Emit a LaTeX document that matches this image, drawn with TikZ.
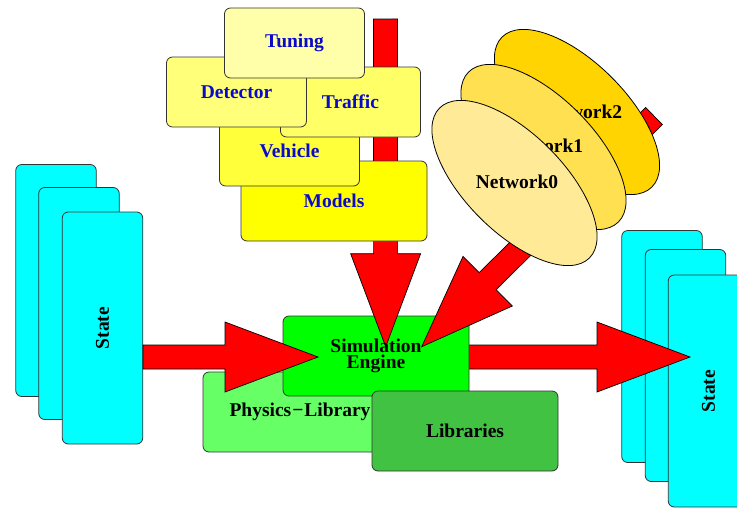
\documentclass[tikz,border=0pt]{standalone}
\usepackage{fontspec}
\setmainfont{Liberation Serif}
\usetikzlibrary{calc,shapes.geometric}
\definecolor{cmodels}{RGB}{255,255,0}
\definecolor{cvehicle}{RGB}{255,255,58}
\definecolor{ctraffic}{RGB}{255,255,102}
\definecolor{cdetector}{RGB}{255,255,122}
\definecolor{ctuning}{RGB}{255,255,170}
\definecolor{mblue}{RGB}{10,10,205}
\definecolor{cnet0}{RGB}{255,234,152}
\definecolor{cnet1}{RGB}{255,224,80}
\definecolor{cnet2}{RGB}{255,212,0}
\definecolor{cengine}{RGB}{0,255,0}
\definecolor{cphysics}{RGB}{102,255,102}
\definecolor{clibs}{RGB}{66,194,66}
\definecolor{cstate}{RGB}{0,255,255}
\definecolor{cred}{RGB}{255,0,0}
\tikzset{
  lbl/.style={font=\fontsize{19.5}{20}\selectfont\bfseries},
  box/.style={lbl, draw=black!80, line width=0.8pt, rounded corners=6pt, inner sep=0pt},
  modelbox/.style={box, text=mblue, minimum width=140pt, minimum height=70pt},
  greenbox/.style={box, minimum width=186pt, minimum height=80pt},
  statebox/.style={box, fill=cstate, minimum width=80.5pt, minimum height=232pt},
  netell/.style={ellipse, draw=black, line width=0.8pt, minimum width=212pt, minimum height=98pt, rotate=-45, inner sep=0pt},
  fat/.style={fill=cred, draw=black, line width=0.7pt, line join=miter}
}
\newcommand{\fatarrow}[2]{%
  \path ($(#2)!93pt!(#1)$) coordinate (fa-h);
  \draw[fat] ($(#1)!12pt!90:(#2)$) -- ($(fa-h)!12pt!-90:(#1)$) -- ($(fa-h)!35pt!-90:(#1)$) -- (#2)
    -- ($(fa-h)!35pt!90:(#1)$) -- ($(fa-h)!12pt!90:(#1)$) -- ($(#1)!12pt!-90:(#2)$) -- cycle;}
\begin{document}
\begin{tikzpicture}[x=1pt,y=-1pt]
\useasboundingbox (0,0) rectangle (737,507);
% left states
\node[statebox] (ls1) at (56,280.5) {};
\node[statebox] (ls2) at (79,303.5) {};
\node[statebox] (ls3) at (102.5,328) {\rotatebox{90}{State}};
% right states
\node[statebox] (rs1) at (662,346.5) {};
\node[statebox] (rs2) at (685.5,365.5) {};
\node[statebox] (rs3) at (708.5,391) {\rotatebox{90}{State}};
% right arrow
\coordinate (rtail) at (460,357);
\coordinate (rtip) at (690,357);
\fatarrow{rtail}{rtip}
% green boxes
\node[greenbox, fill=cphysics] (phys) at (296,412) {\hspace*{8pt}Physics\kern1pt\textminus\kern1pt Library};
\node[greenbox, fill=cengine] (engine) at (376,356) {};
\node[greenbox, fill=clibs] (libs) at (465,431) {Libraries};
% top and diagonal arrows
\coordinate (ttail) at (385.5,19);
\coordinate (ttip) at (385.7,346.7);
\fatarrow{ttail}{ttip}
\coordinate (dtail) at (654,116);
\coordinate (dtip) at (421.7,346.7);
\fatarrow{dtail}{dtip}
% models
\node[modelbox, fill=cmodels, minimum width=186pt, minimum height=80pt] (models) at (334,201) {Models};
\node[modelbox, fill=cvehicle] (vehicle) at (289.5,151) {Vehicle};
\node[modelbox, fill=ctraffic] (traffic) at (350.5,102) {Traffic};
\node[modelbox, fill=cdetector] (detector) at (236.5,92) {Detector};
\node[modelbox, fill=ctuning] (tuning) at (294.5,43) {Tuning};
% networks
\node[netell, fill=cnet2] (net2) at (577,112) {};
\node[lbl] (net2t) at (581,112) {Network2};
\node[netell, fill=cnet1] (net1) at (543.5,147) {};
\node[lbl] (net1t) at (542,146) {Network1};
\node[netell, fill=cnet0] (net0) at (514.5,183) {};
\node[lbl] (net0t) at (517,182) {Network0};
% left arrow
\coordinate (ltail) at (143,357);
\coordinate (ltip) at (318,357);
\fatarrow{ltail}{ltip}
% engine label
\node[lbl, align=center, font=\fontsize{19.5}{16.5}\selectfont\bfseries] (enginet) at (engine.center) {Simulation\\Engine};
\end{tikzpicture}
\end{document}
